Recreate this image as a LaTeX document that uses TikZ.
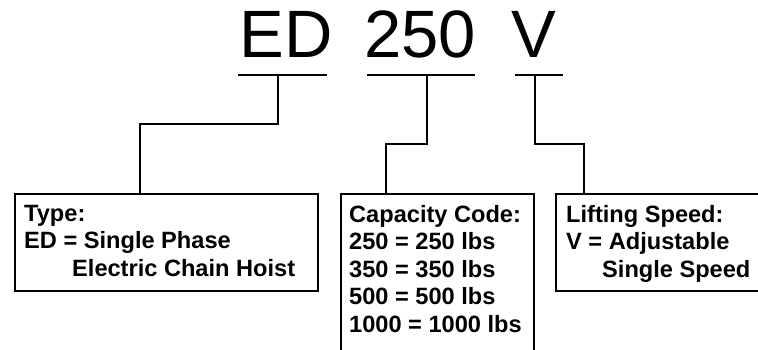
\documentclass[tikz,border=0pt]{standalone}
\usepackage{fontspec}
\setmainfont{Liberation Sans}
\usetikzlibrary{positioning}

\begin{document}
\begin{tikzpicture}[x=1pt,y=-1pt]
   \tikzstyle{code}=[inner sep=0pt,anchor=base,font=\fontsize{67}{67}\selectfont]
   \tikzstyle{panel}=[draw,line width=1.8pt,anchor=north west,inner sep=0pt]
   \tikzstyle{info}=[inner sep=0pt,align=left,font=\bfseries\fontsize{23.6}{27.5}\selectfont]
   \tikzstyle{rule}=[line width=2pt]
   \tikzstyle{link}=[line width=1.8pt]

   \path [use as bounding box,clip] (0,0) rectangle (758,350) ;

   \node (ed) [code] at (286,58) {ED} ;
   \node (cap) [code] at (420,58) {250} ;
   \node (spd) [code] at (534,58) {V} ;

   \draw [rule] (238,75) -- (327,75) ;
   \draw [rule] (367,75) -- (475,75) ;
   \draw [rule] (515,75) -- (563,75) ;

   \coordinate (edtap) at (278,75) ;
   \coordinate (captap) at (427,75) ;
   \coordinate (spdtap) at (535,75) ;
   \coordinate (edknee) at (140,124) ;
   \coordinate (capknee) at (386,144) ;
   \coordinate (spdknee) at (584,144) ;

   \node (tbox) [panel,minimum width=303pt,minimum height=97pt] at (14,193) {} ;
   \node (cbox) [panel,minimum width=193pt,minimum height=175pt] at (340,193) {} ;
   \node (sbox) [panel,minimum width=220pt,minimum height=97pt] at (555,193) {} ;

   \node (ttext) [info,below right=12pt and 10pt of tbox.north west] {%
      Type:\\
      ED = Single Phase\\
      \hspace*{48pt}Electric Chain Hoist} ;
   \node (ctext) [info,below right=12pt and 9pt of cbox.north west] {%
      Capacity Code:\\
      250 = 250 lbs\\
      350 = 350 lbs\\
      500 = 500 lbs\\
      1000 = 1000 lbs} ;
   \node (stext) [info,below right=12pt and 11pt of sbox.north west] {%
      Lifting Speed:\\
      V = Adjustable\\
      \hspace*{36pt}Single Speed} ;

   \draw [link] (edtap) |- (edknee) -- (edknee |- tbox.north) ;
   \draw [link] (captap) |- (capknee) -- (capknee |- cbox.north) ;
   \draw [link] (spdtap) |- (spdknee) -- (spdknee |- sbox.north) ;
\end{tikzpicture}
\end{document}
